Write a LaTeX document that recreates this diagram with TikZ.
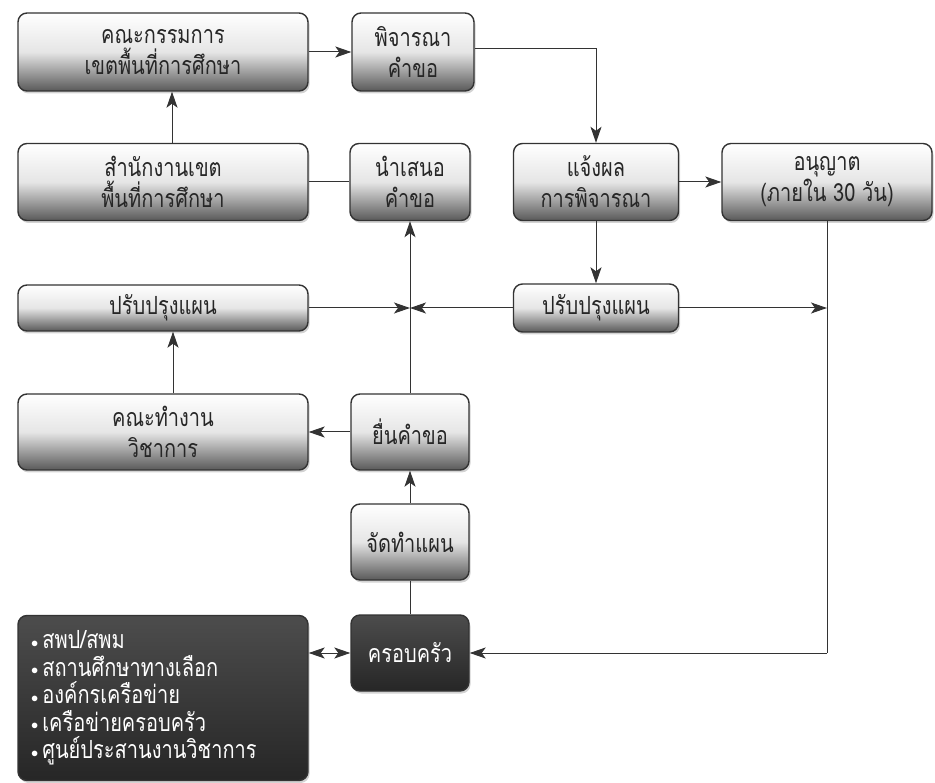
\documentclass[tikz,border=0pt]{standalone}
\usepackage{fontspec}
\newfontfamily\thaifont[Script=Thai, FakeStretch=0.8]{Loma}
\usetikzlibrary{arrows.meta,shadows}
\definecolor{linec}{HTML}{333333}
\newcommand{\bul}{\raisebox{1.5pt}{\fontsize{14}{14}\selectfont$\bullet$}\,}
\tikzset{
  box/.style={draw=linec, line width=1.4pt, rounded corners=9pt,
    top color=white, bottom color=black!65, middle color=white!90!black,
    drop shadow={opacity=0.35, shadow xshift=1.5pt, shadow yshift=-2.5pt},
    align=center, font=\thaifont\fontsize{25}{31}\selectfont, text=black!85,
    inner sep=0pt},
  darkb/.style={draw=linec, line width=1.4pt, rounded corners=9pt,
    top color=black!70, bottom color=black!85,
    drop shadow={opacity=0.35, shadow xshift=1.5pt, shadow yshift=-2.5pt},
    font=\thaifont\fontsize{25}{27.5}\selectfont, text=white, inner sep=0pt},
  conn/.style={draw=linec, line width=1pt},
  arr/.style={conn, -{Stealth[length=16pt,width=11pt,inset=4pt]}},
  darr/.style={conn, {Stealth[length=16pt,width=11pt,inset=4pt]}-{Stealth[length=16pt,width=11pt,inset=4pt]}},
}
\begin{document}
\begin{tikzpicture}[x=1pt,y=-1pt]
\useasboundingbox (0,0) rectangle (935,783);
% row 1
\node[box, minimum width=290pt, minimum height=78pt] (k1) at (163,52) {คณะกรรมการ\\เขตพื้นที่การศึกษา};
\node[box, minimum width=122pt, minimum height=78pt] (p1) at (413,52) {พิจารณา\\คำขอ};
% row 2
\node[box, minimum width=290pt, minimum height=77pt] (s1) at (163,182) {สำนักงานเขต\\พื้นที่การศึกษา};
\node[box, minimum width=120pt, minimum height=77pt] (n1) at (410,182) {นำเสนอ\\คำขอ};
\node[box, minimum width=165pt, minimum height=77pt] (j1) at (596,182) {แจ้งผล\\การพิจารณา};
\node[box, minimum width=210pt, minimum height=77pt] (a1) at (827,182) {อนุญาต\\(ภายใน 30 วัน)};
% row 3
\node[box, minimum width=290pt, minimum height=46pt] (r1) at (163,308) {ปรับปรุงแผน};
\node[box, minimum width=165pt, minimum height=48pt] (r2) at (596,308) {ปรับปรุงแผน};
\coordinate (jc) at (410,308);
\coordinate (rc) at (827,308);
% row 4
\node[box, minimum width=290pt, minimum height=76pt] (kt) at (163,432) {คณะทำงาน\\วิชาการ};
\node[box, minimum width=118pt, minimum height=76pt] (y1) at (410,432) {ยื่นคำขอ};
% row 5
\node[box, minimum width=118pt, minimum height=76pt] (jt) at (410,542) {จัดทำแผน};
% row 6
\node[darkb, minimum width=118pt, minimum height=76pt] (kr) at (410,653) {ครอบครัว};
\node[darkb, minimum width=290pt, minimum height=165pt, align=left, text width=264pt] (ls) at (163,698)
 {\bul สพป/สพม\\\bul สถานศึกษาทางเลือก\\\bul องค์กรเครือข่าย\\\bul เครือข่ายครอบครัว\\\bul ศูนย์ประสานงานวิชาการ};
\coordinate (kc) at (827,653);
% connectors
\draw[arr] (k1.east) -- (p1.west);
\draw[arr] ([yshift=3pt]p1.east) -| (j1.north);
\draw[arr] ([xshift=9pt]s1.north) -- ([xshift=9pt]k1.south);
\draw[conn] (s1.east) -- (n1.west);
\draw[arr] (j1.east) -- (a1.west);
\draw[arr] (j1.south) -- (r2.north);
\draw[arr] (r2.east) -- (rc);
\draw[conn] (a1.south) -- (kc);
\draw[arr] (kc) -- (kr.east);
\draw[arr] (r1.east) -- (jc);
\draw[arr] (r2.west) -- (jc);
\draw[arr] (y1.north) -- (n1.south);
\draw[arr] (jt.north) -- (y1.south);
\draw[conn] (kr.north) -- (jt.south);
\draw[arr] (y1.west) -- (kt.east);
\draw[arr] ([xshift=10pt]kt.north) -- ([xshift=10pt]r1.south);
\draw[darr] (ls.east |- kr.west) -- (kr.west);
\end{tikzpicture}
\end{document}
